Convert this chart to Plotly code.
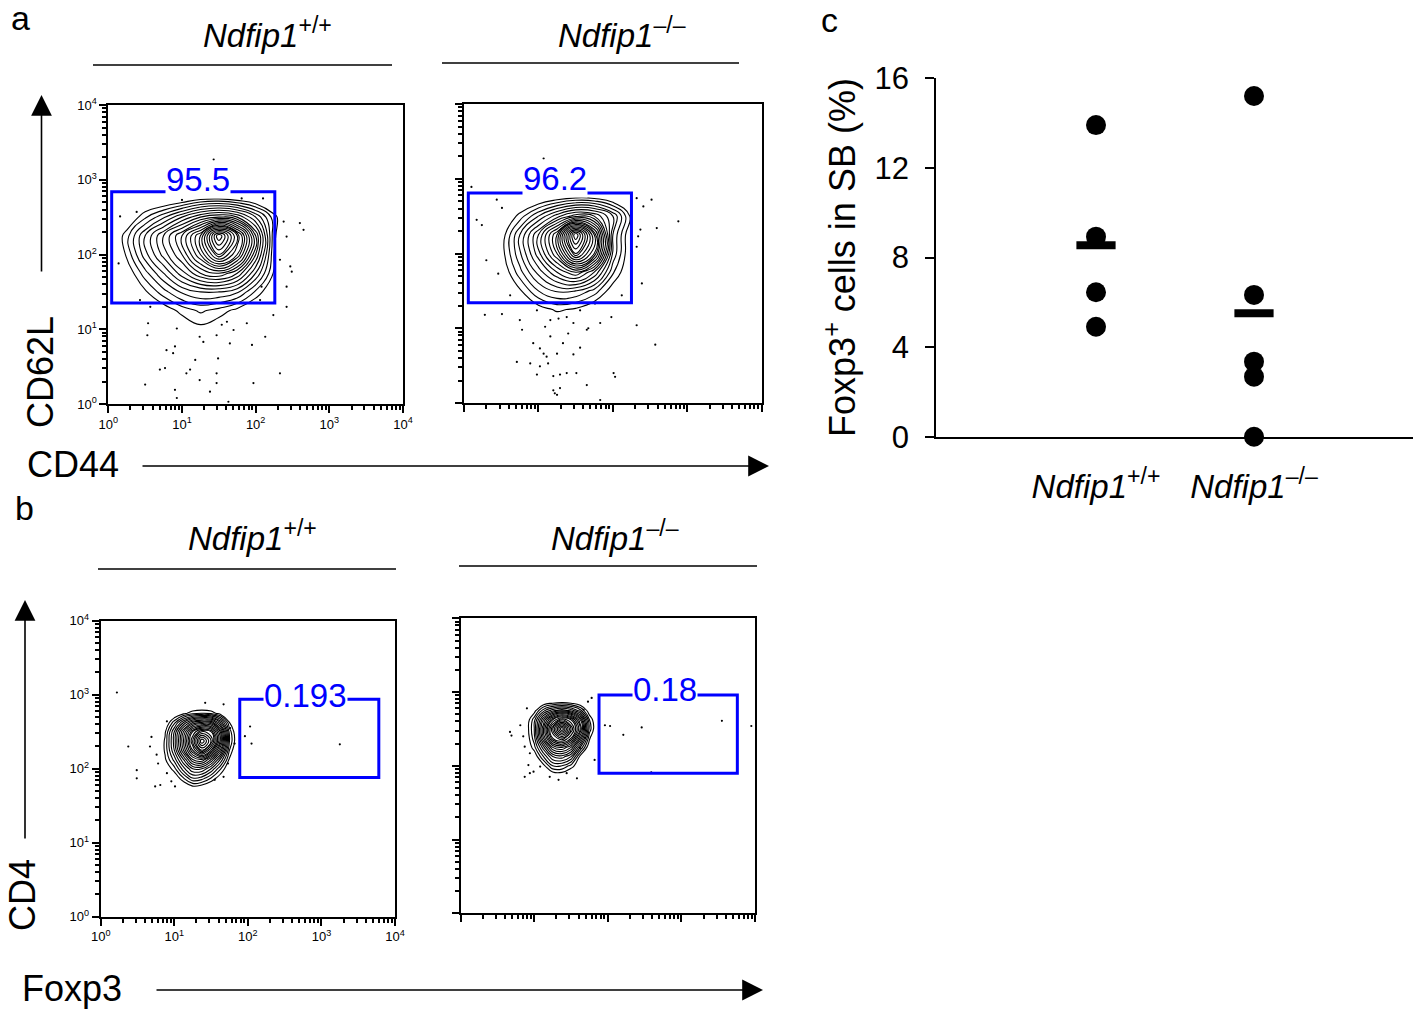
import numpy as np
import plotly.graph_objects as go

W, H = 1421, 1013


def px(x):
    return x / W


def py(y):
    return 1 - y / H


# ---------------- DATA ----------------
decade_vals = [0, 1, 2, 3, 4]
decade_text = ["10<sup>0</sup>", "10<sup>1</sup>", "10<sup>2</sup>", "10<sup>3</sup>", "10<sup>4</sup>"]

# panel a: CD44 (x) vs CD62L (y), density estimated on a log10 grid
a_grid_x = [0, 0.25, 0.5, 0.75, 1.0, 1.25, 1.5, 1.75, 2.0, 2.25, 2.5, 2.75]
a_grid_y = [0.75, 1.0, 1.25, 1.5, 1.75, 2.0, 2.25, 2.5, 2.75, 3.0]
a_wt_density = [
    [0, 0, 0, 0, 0, 0, 0, 0, 0, 0, 0, 0],
    [0, 0, 0, 0, 0.4, 0.8, 0.5, 0, 0, 0, 0, 0],
    [0, 0, 0.2, 0.6, 1.2, 1.6, 1.3, 0.8, 0.2, 0, 0, 0],
    [0, 0, 0.9, 1.8, 2.6, 3, 3, 2.6, 1.4, 0.3, 0, 0],
    [0, 0.5, 1.8, 3, 4.3, 5.5, 6, 5, 3, 0.9, 0, 0],
    [0, 1.1, 2.8, 4.2, 5.5, 7.5, 10, 8, 4.5, 1.0, 0, 0],
    [0, 1.3, 3, 4.5, 6, 8, 12, 9, 5, 1.1, 0, 0],
    [0, 0.3, 1.4, 2.4, 3.5, 4.5, 5, 4.5, 3, 1.2, 0, 0],
    [0, 0, 0, 0, 0.3, 0.8, 0.9, 0.6, 0.2, 0, 0, 0],
    [0, 0, 0, 0, 0, 0, 0, 0, 0, 0, 0, 0],
]
a_ko_density = [
    [0, 0, 0, 0, 0, 0, 0, 0, 0, 0, 0, 0],
    [0, 0, 0, 0, 0, 0.2, 0.1, 0, 0, 0, 0, 0],
    [0, 0, 0, 0.2, 0.7, 1.1, 0.9, 0.4, 0, 0, 0, 0],
    [0, 0, 0, 0.9, 2, 2.6, 2.5, 1.8, 0.6, 0, 0, 0],
    [0, 0, 0.4, 1.8, 3.2, 4.5, 5.5, 4, 1.6, 0.2, 0, 0],
    [0, 0, 0.7, 2.4, 4.3, 6.5, 10, 7.5, 2.4, 0.3, 0, 0],
    [0, 0, 0.6, 2.5, 4.5, 7, 12, 8, 2.5, 0.3, 0, 0],
    [0, 0, 0.2, 1.2, 2.5, 3.8, 4.8, 4.5, 3, 0.8, 0, 0],
    [0, 0, 0, 0, 0.2, 0.6, 0.9, 0.8, 0.3, 0, 0, 0],
    [0, 0, 0, 0, 0, 0, 0, 0, 0, 0, 0, 0],
]
a_wt_events_x = [1.43, 0.57, 0.54, 0.53, 0.93, 0.905, 0.79, 0.88, 1.24, 1.29, 1.47, 1.70, 1.54, 1.61,
                 1.65, 1.95, 2.13, 1.88, 1.18, 1.11, 1.24, 1.47, 1.38, 1.06, 0.70, 0.77, 0.50, 0.905,
                 0.93, 1.47, 1.63, 1.97, 2.33, 1.49, 2.24, 2.42, 2.47, 2.49, 2.33, 2.42, 2.38, 2.60,
                 2.65, 2.42, 2.08, 2.10, 1.81, 1.0, 0.16, 0.14, 0.385, 0.43, 2.06]
a_wt_events_y = [3.27, 1.30, 1.08, 0.92, 1.01, 0.77, 0.72, 0.68, 0.90, 0.83, 0.92, 0.99, 1.06, 1.10,
                 0.81, 0.79, 0.90, 1.08, 0.59, 0.46, 0.32, 0.41, 0.165, 0.41, 0.46, 0.48, 0.26, 0.19,
                 0.08, 0.28, 0.03, 0.28, 0.41, 0.61, 1.19, 1.30, 1.84, 1.77, 1.93, 2.24, 2.44, 2.42,
                 2.33, 1.57, 1.57, 2.75, 2.75, 2.73, 2.51, 1.88, 2.57, 1.39, 1.39]
a_ko_events_x = [1.07, 0.10, 0.44, 0.51, 0.24, 0.17, 0.30, 0.46, 0.62, 0.28, 0.51, 0.75, 0.98, 1.16,
                 1.27, 1.38, 1.56, 1.67, 1.83, 1.98, 1.76, 2.12, 2.32, 2.57, 2.39, 2.32, 2.34, 2.37,
                 2.32, 2.41, 2.52, 2.59, 2.88, 0.78, 0.93, 1.02, 1.11, 1.16, 1.07, 1.13, 1.02, 0.89,
                 0.98, 1.20, 1.29, 1.38, 1.51, 1.47, 1.33, 1.25, 1.40, 1.47, 1.56, 1.65, 2.01, 2.03,
                 1.20, 1.22, 1.25, 1.29, 1.83, 0.71, 1.09, 1.65]
a_ko_events_y = [3.27, 2.89, 2.72, 2.61, 2.38, 2.45, 1.91, 1.73, 1.44, 1.18, 1.19, 1.11, 1.24, 1.11,
                 1.13, 1.15, 1.24, 1.00, 1.07, 1.15, 1.33, 1.44, 1.04, 0.78, 1.60, 2.09, 2.23, 2.32,
                 2.74, 2.63, 2.72, 2.34, 2.43, 0.98, 0.80, 0.73, 0.62, 0.89, 0.66, 0.53, 0.49, 0.53,
                 0.38, 0.36, 0.38, 0.40, 0.40, 0.65, 0.80, 0.66, 0.93, 1.07, 0.74, 0.24, 0.40, 0.35,
                 0.17, 0.13, 0.11, 0.20, 0.04, 0.55, 1.02, 0.98]

# panel b: Foxp3 (x) vs CD4 (y)
b_grid_x = [0.75, 0.875, 1.0, 1.125, 1.25, 1.375, 1.5, 1.625, 1.75, 1.875, 2.0]
b_wt_grid_y = [1.625, 1.75, 1.875, 2.0, 2.125, 2.25, 2.375, 2.5, 2.625, 2.75, 2.875]
b_wt_density = [
    [0, 0, 0, 0, 0, 0, 0, 0, 0, 0, 0],
    [0, 0, 0, 0.2, 0.8, 0.6, 0.2, 0, 0, 0, 0],
    [0, 0, 0.4, 1.5, 2.5, 2.3, 1.5, 0.6, 0, 0, 0],
    [0, 0.4, 1.3, 2.8, 4, 4, 3, 1.6, 0.3, 0, 0],
    [0, 0.9, 2.2, 4, 6, 6.5, 5, 3, 0.9, 0, 0],
    [0, 1.1, 3, 5.5, 8, 10, 8, 5, 1.5, 0, 0],
    [0, 1.1, 3.2, 6, 9, 12, 10, 6.5, 2, 0.2, 0],
    [0, 0.9, 3, 5.5, 8, 9.5, 9, 6, 1.8, 0.1, 0],
    [0, 0.3, 1.8, 3.5, 5, 5.5, 5.5, 3.5, 1, 0, 0],
    [0, 0, 0.2, 0.8, 1.3, 1.5, 1.3, 0.7, 0.1, 0, 0],
    [0, 0, 0, 0, 0, 0, 0, 0, 0, 0, 0],
]
b_ko_grid_y = [1.75, 1.875, 2.0, 2.125, 2.25, 2.375, 2.5, 2.625, 2.75, 2.875, 3.0]
b_ko_density = [
    [0, 0, 0, 0, 0, 0, 0, 0, 0, 0, 0],
    [0, 0, 0, 0, 0.5, 0.6, 0.2, 0, 0, 0, 0],
    [0, 0, 0, 0.8, 2, 2, 1.3, 0.4, 0, 0, 0],
    [0, 0, 0.5, 2, 3.5, 3.8, 3, 0.8, 0, 0, 0],
    [0, 0.2, 1.3, 3.3, 5.5, 6, 5, 2.5, 0.4, 0, 0],
    [0, 0.3, 1.8, 5, 8, 9, 7.5, 4.5, 1.1, 0, 0],
    [0, 0.4, 2, 5.5, 9, 12, 9, 6, 1.8, 0, 0],
    [0, 0.3, 1.8, 4.5, 7, 8.5, 7.5, 5, 1.5, 0, 0],
    [0, 0, 0.7, 2.3, 3.3, 3.8, 3.3, 2.2, 0.5, 0, 0],
    [0, 0, 0, 0.2, 0.4, 0.5, 0.4, 0.1, 0, 0, 0],
    [0, 0, 0, 0, 0, 0, 0, 0, 0, 0, 0],
]
b_wt_events_x = [0.22, 0.375, 0.49, 0.49, 0.69, 0.67, 0.76, 0.78, 0.74, 0.81, 0.90, 0.96, 1.01,
                 0.90, 1.42, 1.67, 1.76, 1.82, 1.73, 1.67, 1.55, 1.96, 2.03, 2.05, 3.25]
b_wt_events_y = [3.03, 2.30, 1.98, 1.87, 2.43, 2.30, 2.19, 2.07, 1.76, 1.78, 1.94, 1.83, 1.76,
                 2.64, 2.89, 2.87, 2.55, 2.34, 2.07, 1.89, 1.85, 2.44, 2.57, 2.34, 2.33]
b_ko_events_x = [0.67, 0.69, 0.81, 0.85, 0.87, 0.90, 0.94, 0.92, 0.87, 0.94, 0.99, 1.08, 1.21,
                 1.33, 1.44, 1.58, 1.62, 1.69, 1.73, 1.78, 1.82, 1.96, 2.03, 2.21, 2.46, 2.59,
                 3.55, 3.95, 1.67]
b_ko_events_y = [2.46, 2.41, 2.55, 2.40, 2.26, 2.78, 2.17, 2.01, 1.85, 1.90, 1.92, 1.99, 1.85,
                 1.81, 1.90, 1.83, 2.24, 2.38, 2.87, 2.92, 2.08, 2.55, 2.54, 2.42, 2.52, 1.91,
                 2.61, 2.54, 2.76]

# gates [x0, x1, y0, y1] in log10 units and their frequencies
gates = [[0.046, 2.26, 1.35, 2.84], [0.058, 2.25, 1.34, 2.81],
         [1.89, 3.78, 1.88, 2.94], [1.88, 3.76, 1.90, 2.96]]
gate_labels = ["95.5", "96.2", "0.193", "0.18"]
gate_label_x = [1.22, 1.22, 2.78, 2.78]

# panel c
c_groups = ["<i>Ndfip1</i><sup>+/+</sup>", "<i>Ndfip1</i><sup>\u2013/\u2013</sup>"]
c_wt = [13.91, 8.93, 6.45, 4.91]
c_ko = [15.21, 6.33, 3.35, 2.68, 0.0]
c_yticks = [0, 4, 8, 12, 16]

# ---------------- FIGURE ----------------
FONT = "Arial, Liberation Sans, sans-serif"
fig = go.Figure()

minor_vals = [d + np.log10(k) for d in range(4) for k in range(2, 10)]

boxes = {
    "1": (108.3, 403.0, 105.0, 404.0, True),
    "2": (464.0, 761.7, 104.0, 403.0, False),
    "3": (100.7, 395.0, 620.7, 916.7, True),
    "4": (460.7, 755.0, 618.3, 913.3, False),
}

layout_axes = {}
for k, (x0, x1, y0, y1, labels) in boxes.items():
    ax_common = dict(range=[0, 4], showgrid=False, zeroline=False, linecolor="black",
                     linewidth=2, mirror=True, ticks="outside", ticklen=7, tickwidth=2,
                     tickcolor="black", tickmode="array", tickvals=decade_vals,
                     ticktext=decade_text, showticklabels=labels,
                     tickfont=dict(family=FONT, size=13, color="black"),
                     minor=dict(tickmode="array", tickvals=minor_vals, ticks="outside",
                                ticklen=4, tickwidth=1.5, tickcolor="black"),
                     automargin=False, fixedrange=True)
    xname = "xaxis" if k == "1" else "xaxis" + k
    yname = "yaxis" if k == "1" else "yaxis" + k
    layout_axes[xname] = dict(ax_common, domain=[px(x0), px(x1)],
                              anchor="y" if k == "1" else "y" + k)
    layout_axes[yname] = dict(ax_common, domain=[py(y1), py(y0)],
                              anchor="x" if k == "1" else "x" + k)

panels = [
    ("x", "y", a_grid_x, a_grid_y, a_wt_density, a_wt_events_x, a_wt_events_y),
    ("x2", "y2", a_grid_x, a_grid_y, a_ko_density, a_ko_events_x, a_ko_events_y),
    ("x3", "y3", b_grid_x, b_wt_grid_y, b_wt_density, b_wt_events_x, b_wt_events_y),
    ("x4", "y4", b_grid_x, b_ko_grid_y, b_ko_density, b_ko_events_x, b_ko_events_y),
]
shapes = []
annotations = []
for i, (xa, ya, gx, gy, z, ex, ey) in enumerate(panels):
    fig.add_trace(go.Scatter(x=ex, y=ey, mode="markers", xaxis=xa, yaxis=ya,
                             marker=dict(size=2.2, color="black"), hoverinfo="skip",
                             showlegend=False))
    fig.add_trace(go.Contour(x=gx, y=gy, z=z, xaxis=xa, yaxis=ya, showscale=False,
                             contours=dict(start=1, end=12, size=0.5, coloring="none"),
                             line=dict(color="black", width=1.1, smoothing=1.3),
                             hoverinfo="skip"))
    g = gates[i]
    shapes.append(dict(type="rect", xref=xa, yref=ya, x0=g[0], x1=g[1], y0=g[2], y1=g[3],
                       line=dict(color="#0000ff", width=3)))
    annotations.append(dict(xref=xa, yref=ya, x=gate_label_x[i], y=g[3], text=gate_labels[i],
                            showarrow=False, yanchor="middle", yshift=[12, 14, 4, 6][i],
                            bgcolor="white", borderpad=0,
                            font=dict(family=FONT, size=33, color="#0000ff")))

# panel c
fig.add_trace(go.Scatter(x=[1] * len(c_wt) + [2] * len(c_ko), y=c_wt + c_ko, mode="markers",
                         xaxis="x5", yaxis="y5", cliponaxis=False,
                         marker=dict(size=20, color="black"), showlegend=False,
                         hoverinfo="skip"))
fig.add_trace(go.Scatter(x=[1, 2], y=[float(np.mean(c_wt)), float(np.mean(c_ko))], mode="markers",
                         xaxis="x5", yaxis="y5", cliponaxis=False,
                         marker=dict(symbol="line-ew", size=28, color="black",
                                     line=dict(width=8, color="black")),
                         showlegend=False, hoverinfo="skip"))

layout_axes["xaxis5"] = dict(domain=[px(936), px(1413)], anchor="y5",
                             range=[1 - 160 / 158, 1 - 160 / 158 + 477 / 158],
                             showgrid=False, zeroline=False, showline=True, linecolor="black",
                             linewidth=1.5, ticks="", tickmode="array", tickvals=[1, 2],
                             ticktext=c_groups, ticklabelstandoff=20,
                             tickfont=dict(family=FONT, size=33, color="black"),
                             automargin=False, fixedrange=True)
layout_axes["yaxis5"] = dict(domain=[py(436.7), py(78.3)], anchor="x5", range=[0, 16],
                             showgrid=False, zeroline=False, showline=True, linecolor="black",
                             linewidth=1.5, ticks="outside", ticklen=9, tickwidth=1.5,
                             tickcolor="black", tickmode="array", tickvals=c_yticks,
                             ticklabelstandoff=10,
                             tickfont=dict(family=FONT, size=31, color="black"),
                             title=dict(text="Foxp3<sup>+</sup> cells in SB (%)",
                                        font=dict(family=FONT, size=36, color="black"),
                                        standoff=8),
                             automargin=False, fixedrange=True)

# headers with underlines
headers = [
    ("<i>Ndfip1</i><sup>+/+</sup>", 267, 33, 93, 392, 65),
    ("<i>Ndfip1</i><sup>\u2013/\u2013</sup>", 622, 33, 442, 739, 63),
    ("<i>Ndfip1</i><sup>+/+</sup>", 252, 536, 98, 396, 569),
    ("<i>Ndfip1</i><sup>\u2013/\u2013</sup>", 615, 536, 459, 757, 566),
]
for txt, tx, ty, lx0, lx1, ly in headers:
    annotations.append(dict(xref="paper", yref="paper", x=px(tx), y=py(ty), text=txt,
                            showarrow=False, xanchor="center", yanchor="middle",
                            font=dict(family=FONT, size=33, color="black")))
    shapes.append(dict(type="line", xref="paper", yref="paper", x0=px(lx0), x1=px(lx1),
                       y0=py(ly), y1=py(ly), line=dict(color="black", width=1.5)))

# panel letters and axis names
texts = [("a", 20, 18, 34, 0), ("b", 24, 508, 34, 0), ("c", 829, 20, 34, 0),
         ("CD62L", 40, 372, 36, -90), ("CD44", 73, 464, 36, 0),
         ("CD4", 22, 895, 36, -90), ("Foxp3", 72, 988, 36, 0)]
for txt, tx, ty, fs, rot in texts:
    annotations.append(dict(xref="paper", yref="paper", x=px(tx), y=py(ty), text=txt,
                            showarrow=False, xanchor="center", yanchor="middle", textangle=rot,
                            font=dict(family=FONT, size=fs, color="black")))

# arrows (head position, tail offset in px)
arrows = [(41.5, 95, 0, 178), (769, 466, -628, 0), (25, 600, 0, 240), (763, 990, -608, 0)]
for hx, hy, axo, ayo in arrows:
    annotations.append(dict(xref="paper", yref="paper", x=px(hx), y=py(hy), ax=axo, ay=ayo,
                            axref="pixel", ayref="pixel", text="", showarrow=True,
                            arrowhead=2, arrowsize=2.6, arrowwidth=1.6, arrowcolor="black"))

fig.update_layout(width=W, height=H, margin=dict(l=0, r=0, t=0, b=0),
                  paper_bgcolor="white", plot_bgcolor="white", showlegend=False,
                  shapes=shapes, annotations=annotations, **layout_axes)

fig.write_html("out.html")
